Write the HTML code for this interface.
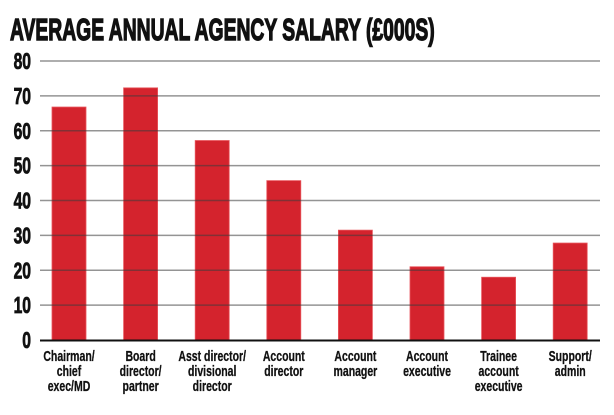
<!DOCTYPE html>
<html><head><meta charset="utf-8"><style>
body{margin:0;background:#fff;width:614px;height:410px;overflow:hidden}
svg text{font-family:"Liberation Sans",sans-serif;font-weight:bold;fill:#111}
</style></head><body>
<svg id="c" width="614" height="410">
<g transform="translate(10,40) scale(0.62,1)"><text x="0" y="0" font-size="31" stroke="#111" stroke-width="1.4" textLength="685" lengthAdjust="spacingAndGlyphs">AVERAGE ANNUAL AGENCY SALARY (£000S)</text></g>
<g id="bars"></g><g id="grid"></g><g id="labels"></g>
</svg>
<script>
const categories=[["Chairman/","chief","exec/MD"],["Board","director/","partner"],["Asst director/","divisional","director"],["Account","director"],["Account","manager"],["Account","executive"],["Trainee","account","executive"],["Support/","admin"]];
const values=[66.8,72.3,57.2,45.7,31.5,21,18,27.8];
const ticks=[0,10,20,30,40,50,60,70,80];
const NS="http://www.w3.org/2000/svg";
const y0=340,y80=61,x0=40,x1=600;
const y=v=>y0-(y0-y80)*v/80;
const xc=i=>69+i*71.6;
function mk(t,a,p){const e=document.createElementNS(NS,t);for(const k in a)e.setAttribute(k,a[k]);p.appendChild(e);return e;}
const bars=document.getElementById('bars'),grid=document.getElementById('grid'),labels=document.getElementById('labels');
values.forEach((v,i)=>{const r=mk('rect',{x:xc(i)-17,y:y(v),width:34,height:y0-y(v),fill:'#d4232d',stroke:'#e8555c','stroke-width':0.8},bars);

});
ticks.forEach(t=>{if(t>0){const l=mk('line',{x1:x0,x2:x1,y1:y(t),y2:y(t),stroke:'rgba(60,60,60,0.55)','stroke-width':1.4},grid);

}
const g=mk('g',{transform:'translate(31,'+(y(t)+8)+') scale(0.68,1)'},labels);
const tx=mk('text',{x:0,y:0,'font-size':23,'text-anchor':'end',stroke:'#111','stroke-width':0.8},g);tx.textContent=t;

});
const ax=mk('line',{x1:x0,x2:x1,y1:y0+0.5,y2:y0+0.5,stroke:'#111','stroke-width':2},grid);


categories.forEach((c,i)=>{const g=mk('g',{transform:'translate('+xc(i)+',0) scale(0.7,1)'},labels);
const t=mk('text',{'font-size':15,'text-anchor':'middle',stroke:'#111','stroke-width':0.3},g);


c.forEach((s,j)=>{const ts=mk('tspan',{x:0,y:361+j*15},t);ts.textContent=s;});});
</script>
</body></html>
